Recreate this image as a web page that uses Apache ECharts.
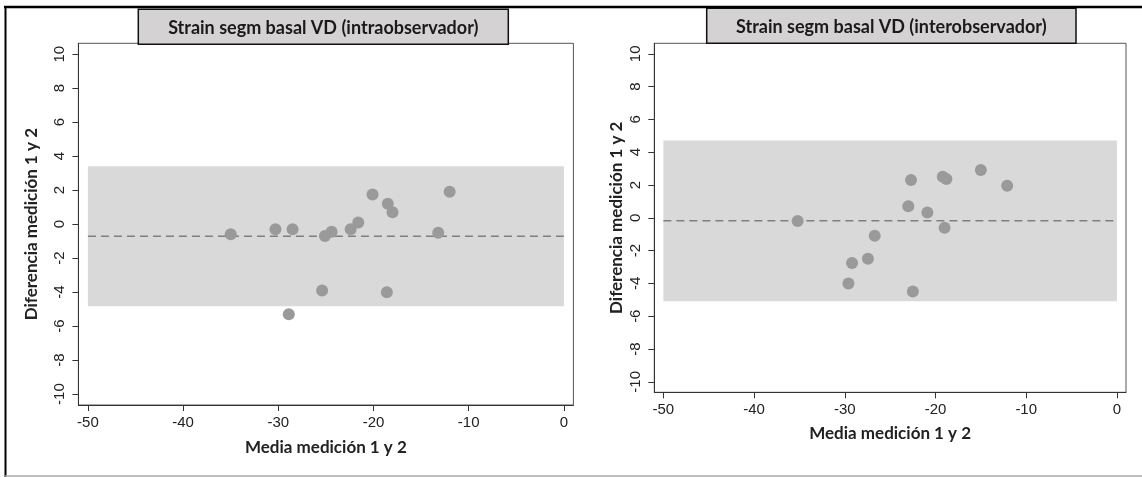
<!DOCTYPE html>
<html>
<head>
<meta charset="utf-8">
<script src="https://cdn.jsdelivr.net/npm/echarts@6/dist/echarts.min.js"></script>
<style>
  html, body { margin: 0; padding: 0; background: #fff; }
  #chart { width: 1142px; height: 477px; }
</style>
</head>
<body>
<div id="chart"></div>
<script>
// Bland-Altman data: mean of the two measurements vs. their difference
const intraMean = [-35.0, -30.3, -28.5, -28.9, -25.4, -25.1, -24.4, -22.4, -21.6, -20.1, -18.5, -18.0, -18.6, -13.2, -12.0];
const intraDiff = [-0.6, -0.3, -0.3, -5.3, -3.9, -0.7, -0.45, -0.3, 0.1, 1.75, 1.2, 0.7, -4.0, -0.5, 1.9];

const interMean = [-35.2, -29.6, -29.2, -27.45, -26.7, -23.0, -22.7, -22.5, -20.9, -19.2, -18.8, -19.0, -15.0, -12.1];
const interDiff = [-0.2, -4.0, -2.75, -2.5, -1.1, 0.7, 2.3, -4.5, 0.33, 2.5, 2.37, -0.6, 2.92, 1.95];

const xTicks = [-50, -40, -30, -20, -10, 0];
const yTicks = [-10, -8, -6, -4, -2, 0, 2, 4, 6, 8, 10];

const panelTitles = ['Strain segm basal VD (intraobservador)', 'Strain segm basal VD (interobservador)'];
const xTitle = 'Media medición 1 y 2';
const yTitle = 'Diferencia medición 1 y 2';

// mean difference and 95% limits of agreement
function limits(d) {
  const n = d.length;
  const m = d.reduce((a, b) => a + b, 0) / n;
  const sd = Math.sqrt(d.reduce((a, b) => a + (b - m) * (b - m), 0) / (n - 1));
  return { mean: m, lo: m - 1.96 * sd, hi: m + 1.96 * sd };
}

const panels = [
  { mean: intraMean, diff: intraDiff, grid: { left: 78.4, top: 43.3, width: 495, height: 361.7 }, yGap: 38, xGap: 34, titleBox: [138.3, 9.3, 370, 35] },
  { mean: interMean, diff: interDiff, grid: { left: 654.3, top: 43.3, width: 471.7, height: 349 }, yGap: 29, xGap: 33, titleBox: [706.7, 8.3, 369.3, 35] }
];

const labelFont = { fontFamily: 'Liberation Sans', fontSize: 15, color: '#222' };
const nameFont = { fontFamily: 'Lato', fontWeight: 'bold', fontSize: 17, color: '#222' };

const grids = [], xAxes = [], yAxes = [], series = [], graphics = [];

panels.forEach((p, i) => {
  const lim = limits(p.diff);
  grids.push(Object.assign({ show: true, borderColor: '#555', borderWidth: 1, backgroundColor: 'transparent' }, p.grid));
  xAxes.push({
    gridIndex: i, type: 'value', min: -51, max: 1,
    name: xTitle, nameLocation: 'middle', nameGap: p.xGap, nameTextStyle: nameFont,
    axisLine: { show: true, onZero: false, lineStyle: { color: '#333', width: 1 } },
    axisTick: { show: true, customValues: xTicks, length: 6, lineStyle: { color: '#333' } },
    axisLabel: Object.assign({ customValues: xTicks, margin: 10 }, labelFont),
    splitLine: { show: false }
  });
  yAxes.push({
    gridIndex: i, type: 'value', min: -10.64, max: 10.64,
    name: yTitle, nameLocation: 'middle', nameGap: p.yGap, nameRotate: 90, nameTextStyle: nameFont,
    axisLine: { show: true, onZero: false, lineStyle: { color: '#333', width: 1 } },
    axisTick: { show: true, customValues: yTicks, length: 6, lineStyle: { color: '#333' } },
    axisLabel: Object.assign({ customValues: yTicks, rotate: 90, margin: 11 }, labelFont),
    splitLine: { show: false }
  });
  // limits-of-agreement band
  series.push({
    type: 'line', xAxisIndex: i, yAxisIndex: i, data: [], z: 1, silent: true,
    markArea: {
      silent: true,
      itemStyle: { color: '#d9d9d9' },
      data: [[{ coord: [xTicks[0], lim.lo] }, { coord: [xTicks[xTicks.length - 1], lim.hi] }]]
    }
  });
  // mean difference
  series.push({
    type: 'line', xAxisIndex: i, yAxisIndex: i, z: 2, silent: true, symbol: 'none',
    lineStyle: { color: '#7f7f7f', width: 1.5, type: [8, 5] },
    data: [[xTicks[0], lim.mean], [xTicks[xTicks.length - 1], lim.mean]]
  });
  series.push({
    type: 'scatter', xAxisIndex: i, yAxisIndex: i, z: 3, symbolSize: 12,
    itemStyle: { color: '#9a9a9a', opacity: 1 },
    data: p.mean.map((m, k) => [m, p.diff[k]])
  });
  const b = p.titleBox;
  graphics.push({
    type: 'group', z: 100,
    children: [
      { type: 'rect', shape: { x: b[0], y: b[1], width: b[2], height: b[3] },
        style: { fill: '#d4d2d2', stroke: '#111', lineWidth: 1.5 } },
      { type: 'text', x: b[0] + b[2] / 2, y: b[1] + b[3] / 2 + 1,
        style: { text: panelTitles[i], fill: '#1a1a1a', font: 'bold 18px Lato', align: 'center', verticalAlign: 'middle' } }
    ]
  });
});

// outer figure frame
graphics.push(
  { type: 'line', z: 100, shape: { x1: 4, y1: 7, x2: 1142, y2: 7 }, style: { stroke: '#000', lineWidth: 2.5 } },
  { type: 'line', z: 100, shape: { x1: 5.5, y1: 6, x2: 5.5, y2: 477 }, style: { stroke: '#000', lineWidth: 2 } },
  { type: 'line', z: 100, shape: { x1: 5, y1: 476, x2: 1142, y2: 476 }, style: { stroke: '#aaa', lineWidth: 1.5 } }
);

const chart = echarts.init(document.getElementById('chart'), null, { renderer: 'canvas' });
chart.setOption({
  animation: false,
  backgroundColor: '#fff',
  grid: grids,
  xAxis: xAxes,
  yAxis: yAxes,
  series: series,
  graphic: graphics
});
</script>
</body>
</html>
